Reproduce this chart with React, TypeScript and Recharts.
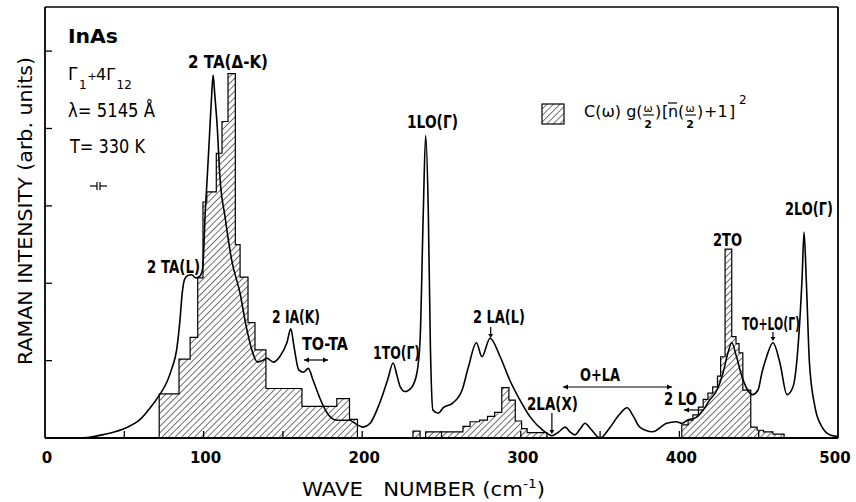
import React from 'react';
import { ComposedChart, Line, Area, XAxis, YAxis } from 'recharts';

// ---------- data ----------
// Raman spectrum: [wave number (cm-1), intensity (arb. units)]
const spectrum: [number, number][] = [
  [0, 0], [10, 0], [20, 0], [28, 0.01], [36, 0.04], [44, 0.08], [52, 0.14], [60, 0.24], [66, 0.38],
  [72, 0.55], [77, 0.73], [80, 0.9], [83, 1.14], [85, 1.5], [86.5, 1.87], [88, 2.05], [90, 2.1],
  [92.5, 2.11], [95, 2.07], [97, 2.08], [99, 2.15], [99.8, 2.3], [100.9, 2.86], [102.3, 3.37],
  [104, 4.02], [105, 4.4], [106, 4.69], [107, 4.45], [108.6, 4.02], [110.3, 3.37], [113.5, 2.86],
  [117.7, 2.3], [123, 1.87], [127, 1.43], [131, 1.1], [134, 0.98], [137, 1.0], [140, 1.03],
  [144, 0.98], [148, 1.05], [152.5, 1.23], [155, 1.41], [157, 1.18], [160, 0.88], [163, 0.85],
  [166, 0.9], [169, 0.75], [173, 0.53], [178, 0.32], [184, 0.23], [192, 0.23], [197, 0.17],
  [200.5, 0.14], [205, 0.19], [211, 0.45], [216, 0.75], [219.5, 0.97], [222, 0.8], [224, 0.66],
  [227, 0.6], [231, 0.65], [234.5, 0.84], [236.5, 1.27], [238.5, 2.9], [240, 3.91], [241.7, 2.9],
  [243, 1.18], [244.6, 0.36], [248, 0.32], [251, 0.39], [257, 0.45], [263, 0.62], [267, 0.92],
  [272, 1.23], [275.5, 1.05], [280.6, 1.29], [287, 1.05], [293, 0.75], [299.5, 0.49], [306, 0.27],
  [314, 0.1], [319.6, 0.03], [324, 0.08], [328, 0.14], [331, 0.08], [334, 0.04], [337.5, 0.12],
  [340.5, 0.19], [344, 0.12], [350, 0.0], [356, 0.13], [362, 0.3], [367, 0.39], [371, 0.28],
  [375, 0.14], [383, 0.08], [392, 0.19], [398, 0.21], [401.6, 0.19], [405, 0.23], [411, 0.27],
  [415, 0.36], [419, 0.49], [423.7, 0.62], [427.5, 0.84], [430.6, 1.1], [433, 1.23], [436, 1.05],
  [439.5, 0.79], [443, 0.62], [446, 0.56], [449.6, 0.62], [452, 0.84], [455, 1.05], [459, 1.23],
  [463.4, 0.97], [467.8, 0.56], [471.6, 0.66], [474.8, 1.18], [477.3, 2.04], [478.6, 2.66],
  [480, 2.04], [482, 0.97], [485.5, 0.4], [490, 0.14], [495, 0.04], [500, 0.02],
];

// Histogram C(w) g(w/2)[n(w/2)+1]^2 : bin left edges and heights (last height closes the region)
const hist1Edges = [72, 84.5, 91.5, 96.3, 99.6, 102, 108, 111.6, 115.4, 120, 123, 128, 132.4, 139.3, 162, 184, 192, 197];
const hist1Heights = [0.57, 1.02, 1.3, 2.07, 3.05, 3.18, 3.68, 4.09, 4.71, 2.5, 2.08, 1.49, 1.14, 0.64, 0.41, 0.51, 0.24, 0];
const hist2Edges = [232, 236.5, 240, 263.5, 268, 274, 279, 283.5, 288, 292.5, 296.5, 300.5, 304, 316.5];
const hist2Heights = [0.09, 0, 0.08, 0.15, 0.21, 0.23, 0.28, 0.33, 0.65, 0.49, 0.22, 0.12, 0.07, 0];
const hist3Edges = [401.5, 405.5, 408.5, 412, 415, 418, 421, 424, 426, 428.8, 433, 435.7, 437.6, 440, 445, 449, 453, 459, 466];
const hist3Heights = [0.17, 0.23, 0.3, 0.4, 0.5, 0.58, 0.66, 0.8, 1.05, 2.44, 1.31, 1.22, 1.1, 0.62, 0.14, 0.1, 0.08, 0.05, 0];

const xTicks = [0, 50, 100, 150, 200, 250, 300, 350, 400, 450, 500];
const xLabelTicks = [0, 100, 200, 300, 400, 500];
const yTicks = [1, 2, 3, 4, 5];

// ---------- layout ----------
const W = 856;
const H = 502;
const M = { top: 6, right: 17, bottom: 63, left: 44 };
const X_MAX = 500;
const Y_MAX = 5.57;

const FONT = "'DejaVu Sans', sans-serif";

const spectrumData = spectrum.map(([x, i]) => ({ x, i }));
function stepData(edges: number[], heights: number[]) {
  const d = [{ x: edges[0], h: 0 }];
  edges.forEach((e, k) => d.push({ x: e, h: heights[k] }));
  return d;
}
const hist1 = stepData(hist1Edges, hist1Heights);
const hist2 = stepData(hist2Edges, hist2Heights);
const hist3 = stepData(hist3Edges, hist3Heights);

const XTick = (props: any) => {
  const { x, y, payload } = props;
  const v = payload.value;
  return (
    <g>
      {v > 0 && v < X_MAX && <line x1={x} y1={y} x2={x} y2={y - 7} stroke="#000" strokeWidth={1.3} />}
      {xLabelTicks.includes(v) && (
        <text x={v === X_MAX ? x - 3 : x + 2} y={y + 25} textAnchor="middle" fontFamily={FONT} fontWeight="bold"
          fontSize={15} fill="#000">{v}</text>
      )}
    </g>
  );
};

const YTick = (props: any) => {
  const { x, y } = props;
  return <line x1={x} y1={y} x2={x + 7} y2={y} stroke="#000" strokeWidth={1.3} />;
};

// annotation helpers (page coordinates of the plot frame)
const PL = 45, PR = W - 18;
const px = (wn: number) => PL + (wn / X_MAX) * (PR - PL);

const Lbl = ({ x, y, children, size = 17, anchor = 'start', weight = 'bold', w }: any) => (
  <text x={x} y={y} fontFamily={FONT} fontWeight={weight} fontSize={size} textAnchor={anchor}
    textLength={w} lengthAdjust="spacingAndGlyphs" fill="#000">{children}</text>
);

const ArrowDown = ({ x, y1, y2 }: any) => (
  <g>
    <line x1={x} y1={y1} x2={x} y2={y2 - 3} stroke="#000" strokeWidth={1.2} />
    <polygon points={`${x - 2.5},${y2 - 4} ${x + 2.5},${y2 - 4} ${x},${y2}`} fill="#000" />
  </g>
);
const ArrowH = ({ x1, x2, y, left = true, right = true }: any) => (
  <g>
    <line x1={x1} y1={y} x2={x2} y2={y} stroke="#000" strokeWidth={1.2} />
    {left && <polygon points={`${x1},${y} ${x1 + 5},${y - 2.5} ${x1 + 5},${y + 2.5}`} fill="#000" />}
    {right && <polygon points={`${x2},${y} ${x2 - 5},${y - 2.5} ${x2 - 5},${y + 2.5}`} fill="#000" />}
  </g>
);

const Overlay = () => (
  <svg width={W} height={H} style={{ position: 'absolute', left: 0, top: 0, pointerEvents: 'none' }}>
    <defs>
      <pattern id="hatch2" width="4.6" height="4.6" patternUnits="userSpaceOnUse" patternTransform="rotate(45)">
        <line x1="0" y1="0" x2="0" y2="4.6" stroke="#000" strokeWidth="1.1" />
      </pattern>
    </defs>
    {/* sample info */}
    <Lbl x={68} y={43} size={20} w={50}>InAs</Lbl>
    <g fontFamily={FONT} fill="#000">
      <text x={68} y={80} fontSize={17}>Γ</text>
      <text x={79} y={89} fontSize={12}>1</text>
      <text x={87.5} y={80} fontSize={11}>+</text>
      <text x={96} y={80} fontSize={16}>4Γ</text>
      <text x={116.5} y={89} fontSize={12}>12</text>
    </g>
    <Lbl x={68} y={117} size={20} weight="normal" w={87}>λ= 5145 Å</Lbl>
    <Lbl x={70} y={153} size={20} weight="normal" w={75}>T= 330 K</Lbl>
    {/* slit symbol */}
    <g stroke="#000" strokeWidth={1.2}>
      <line x1={90} y1={186} x2={97} y2={186} />
      <line x1={97} y1={182} x2={97} y2={190} />
      <line x1={100} y1={182} x2={100} y2={190} />
      <line x1={100} y1={186} x2={107} y2={186} />
    </g>

    {/* peak labels */}
    <Lbl x={188} y={68} w={80}>2 TA(Δ-K)</Lbl>
    <Lbl x={147} y={273} w={53}>2 TA(L)</Lbl>
    <Lbl x={272} y={323} w={48}>2 IA(K)</Lbl>
    <Lbl x={302} y={350} w={46}>TO-TA</Lbl>
    <ArrowH x1={304} x2={328} y={360} />
    <Lbl x={373} y={359} w={47}>1TO(Γ)</Lbl>
    <Lbl x={407} y={128} w={51}>1LO(Γ)</Lbl>
    <Lbl x={473} y={323} w={52}>2 LA(L)</Lbl>
    <ArrowDown x={px(281)} y1={327} y2={338} />
    <Lbl x={527} y={410} w={51}>2LA(X)</Lbl>
    <ArrowDown x={px(319.6)} y1={413} y2={434} />
    <Lbl x={580} y={381} w={40}>O+LA</Lbl>
    <ArrowH x1={563} x2={672} y={387} />
    <Lbl x={664} y={405} w={33}>2 LO</Lbl>
    <ArrowH x1={684} x2={703} y={410} right={false} />
    <Lbl x={713} y={246} w={29}>2TO</Lbl>
    <Lbl x={742} y={330} w={58}>TO+LO(Γ)</Lbl>
    <ArrowDown x={px(459)} y1={332} y2={341} />
    <Lbl x={785} y={215} w={48}>2LO(Γ)</Lbl>

    {/* legend */}
    <rect x={542} y={104} width={22} height={20} fill="url(#hatch2)" stroke="#000" strokeWidth={1.2} />
    <g fontFamily={FONT} fill="#000">
      <text x={584} y={117} fontSize={16}>C(ω) g(</text>
      <text x={648} y={112} fontSize={11} textAnchor="middle">ω</text>
      <line x1={643} y1={115} x2={654} y2={115} stroke="#000" strokeWidth={1.1} />
      <text x={648} y={128} fontSize={11} textAnchor="middle" fontWeight="bold">2</text>
      <text x={655} y={117} fontSize={16}>)</text>
      <text x={662} y={117} fontSize={16}>[</text>
      <text x={668} y={117} fontSize={16}>n</text>
      <text x={678} y={117} fontSize={16}>(</text>
      <line x1={668} y1={103} x2={677} y2={103} stroke="#000" strokeWidth={1.2} />
      <text x={690} y={112} fontSize={11} textAnchor="middle">ω</text>
      <line x1={685} y1={115} x2={696} y2={115} stroke="#000" strokeWidth={1.1} />
      <text x={690} y={128} fontSize={11} textAnchor="middle" fontWeight="bold">2</text>
      <text x={697} y={117} fontSize={16}>)</text>
      <text x={704} y={117} fontSize={16}>+1</text>
      <text x={729} y={117} fontSize={16}>]</text>
      <text x={739} y={104} fontSize={12}>2</text>
    </g>

    {/* axis titles */}
    <text x={0} y={0} transform="translate(32,211) rotate(-90)" textAnchor="middle" fontFamily={FONT}
      fontSize={20} fill="#000" textLength={308} lengthAdjust="spacingAndGlyphs">RAMAN INTENSITY (arb. units)</text>
    <text x={302} y={496} fontFamily={FONT} fontSize={20} fill="#000" xmlSpace="preserve"
      textLength={243} lengthAdjust="spacingAndGlyphs">
      WAVE   NUMBER (cm<tspan fontSize={13} dy={-8}>-1</tspan><tspan dy={8}>)</tspan>
    </text>
  </svg>
);

export default function App() {
  return (
    <div style={{ position: 'absolute', left: 0, top: 0, width: W, height: H, background: '#fff' }}>
      <ComposedChart width={W} height={H} margin={M}>
        <defs>
          <pattern id="hatch" width="4.6" height="4.6" patternUnits="userSpaceOnUse" patternTransform="rotate(45)">
            <line x1="0" y1="0" x2="0" y2="4.6" stroke="#000" strokeWidth="1.1" />
          </pattern>
        </defs>
        <XAxis dataKey="x" type="number" domain={[0, X_MAX]} ticks={xTicks} allowDataOverflow
          height={1} tickSize={0} tickMargin={0} tickLine={false} interval={0}
          axisLine={{ stroke: '#000', strokeWidth: 1.8 }} tick={XTick} />
        <XAxis xAxisId="top" orientation="top" type="number" domain={[0, X_MAX]} height={1}
          tick={false} tickLine={false} axisLine={{ stroke: '#000', strokeWidth: 1.6 }} />
        <YAxis type="number" domain={[0, Y_MAX]} ticks={yTicks} allowDataOverflow width={1}
          tickSize={0} tickMargin={0} tickLine={false} interval={0}
          axisLine={{ stroke: '#000', strokeWidth: 1.8 }} tick={YTick} />
        <YAxis yAxisId="right" orientation="right" type="number" domain={[0, Y_MAX]} width={1}
          tick={false} tickLine={false} axisLine={{ stroke: '#000', strokeWidth: 1.8 }} />
        <Area data={hist1} dataKey="h" type="stepAfter" stroke="#000" strokeWidth={1.2}
          fill="url(#hatch)" fillOpacity={1} isAnimationActive={false} dot={false} activeDot={false} />
        <Area data={hist2} dataKey="h" type="stepAfter" stroke="#000" strokeWidth={1.2}
          fill="url(#hatch)" fillOpacity={1} isAnimationActive={false} dot={false} activeDot={false} />
        <Area data={hist3} dataKey="h" type="stepAfter" stroke="#000" strokeWidth={1.2}
          fill="url(#hatch)" fillOpacity={1} isAnimationActive={false} dot={false} activeDot={false} />
        <Line data={spectrumData} dataKey="i" type="monotone" stroke="#000" strokeWidth={1.6}
          dot={false} activeDot={false} isAnimationActive={false} />
      </ComposedChart>
      <Overlay />
    </div>
  );
}
